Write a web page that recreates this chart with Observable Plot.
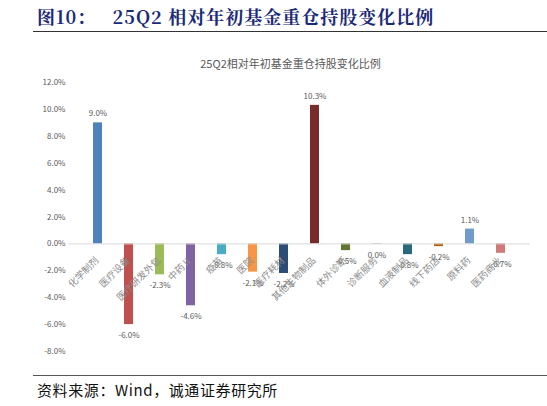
<!DOCTYPE html>
<html><head><meta charset="utf-8">
<script src="https://cdn.jsdelivr.net/npm/d3@7"></script>
<script src="https://cdn.jsdelivr.net/npm/@observablehq/plot@0.6"></script>
<style>
body{margin:0;background:#fff;width:547px;height:406px;overflow:hidden;}
#title{position:absolute;left:37px;top:5px;font-family:"Noto Serif CJK SC","Noto Sans CJK SC",serif;font-weight:bold;font-size:18px;color:#1b2a78;white-space:pre;letter-spacing:1px;line-height:22px;}
#topline{position:absolute;left:33px;top:31px;width:514px;height:0;border-top:1.5px solid #333;}
#chart{position:absolute;left:0;top:36px;}
#botline{position:absolute;left:33px;top:375px;width:514px;height:0;border-top:1.5px solid #555;}
#source{position:absolute;left:37px;top:380px;font-family:"Noto Sans CJK SC",serif;font-size:15px;letter-spacing:0.6px;color:#111;line-height:20px;}
</style></head>
<body>
<div id="title">图10：   25Q2 相对年初基金重仓持股变化比例</div>
<div id="topline"></div>
<div id="chart"></div>
<div id="botline"></div>
<div id="source">资料来源：Wind，诚通证券研究所</div>
<script>
const categories = ["化学制剂","医疗设备","医疗研发外包","中药Ⅱ","疫苗","医院","医疗耗材","其他生物制品","体外诊断","诊断服务","血液制品","线下药店","原料药","医药商业"];
const values = [9.0,-6.0,-2.3,-4.6,-0.8,-2.1,-2.2,10.3,-0.5,-0.04,-0.8,-0.2,1.1,-0.7];
const labels = ["9.0%","-6.0%","-2.3%","-4.6%","-0.8%","-2.1%","-2.2%","10.3%","-0.5%","0.0%","-0.8%","-0.2%","1.1%","-0.7%"];
const colors = ["#4F81BD","#C0504D","#9BBB59","#8064A2","#4BACC6","#F79646","#2C4D75","#772C2A","#5F7530","#A39DB8","#276A7C","#B65708","#729ACA","#D07A78"];
const yTicks = [-8,-6,-4,-2,0,2,4,6,8,10,12];
const chartTitle = "25Q2相对年初基金重仓持股变化比例";

const data = categories.map((c,i)=>({cat:c, v:values[i], label:labels[i], color:colors[i]}));
const font = "'Microsoft YaHei','Noto Sans CJK SC',sans-serif";

const plot = Plot.plot({
  width: 547, height: 336,
  marginLeft: 68, marginRight: 17, marginTop: 46, marginBottom: 21,
  style: {fontFamily: font, background: "#fff"},
  x: {domain: categories, padding: 0.7, axis: null},
  y: {domain: [-8,12], ticks: yTicks, tickFormat: d => d.toFixed(1)+"%", tickSize: 0, tickPadding: 3, label: null},
  marks: [
    Plot.axisY({ticks: yTicks, tickFormat: d => d.toFixed(1)+"%", tickSize: 0, tickPadding: 3, fontSize: 8, fill: "#595959", label: null}),
    Plot.barY(data, {x: "cat", y: "v", fill: "color"}),
    Plot.ruleY([0], {stroke: "#d9d9d9", strokeWidth: 1}),
    Plot.text(data, {x: "cat", y: "v", text: "label", fill: "#595959", fontSize: 8,
      filter: d => d.v >= 0, dy: -9}),
    Plot.text(data, {x: "cat", y: "v", text: "label", fill: "#595959", fontSize: 8,
      filter: d => d.v < 0, dy: 11}),
    Plot.text(data, {x: "cat", y: () => 0, text: "cat", rotate: -45, textAnchor: "end", fill: "#8c8c8c",
      fontSize: 9.5, dx: -1, dy: 15, fontFamily: "'Noto Sans CJK SC',serif"}),
    Plot.text([chartTitle], {frameAnchor: "top", dy: -22, dx: -9, fill: "#595959", fontSize: 11})
  ]
});
document.getElementById("chart").appendChild(plot);
</script>
</body></html>
